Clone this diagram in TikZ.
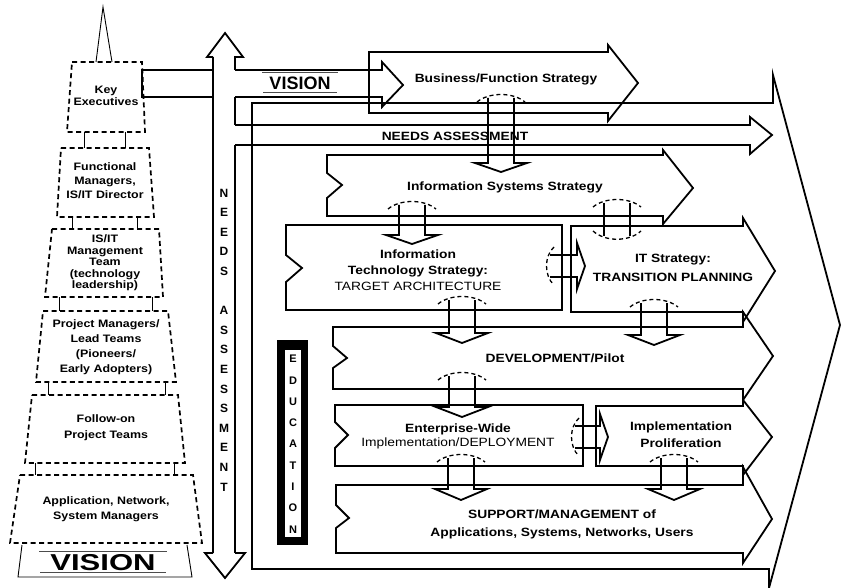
\documentclass[tikz,border=0pt]{standalone}
\usepackage{fontspec}
\setmainfont{Liberation Sans}
\newfontfamily\widesans[FakeStretch=1.15]{Liberation Sans}
\newfontfamily\widersans[FakeStretch=1.35]{Liberation Sans}
\usetikzlibrary{calc}
\newcommand{\hollowdown}[4]{% x, cap y, base y, tip y
  \draw[capline] ({#1-24},{#2+7}) .. controls ({#1-12},{#2-3}) and ({#1+12},{#2-3}) .. ({#1+24},{#2+7});
  \draw[rowline] ({#1-13},{#2+3}) -- ({#1-13},#3) -- ({#1-26},#3) -- (#1,#4) -- ({#1+26},#3) -- ({#1+13},#3) -- ({#1+13},{#2+3});}
\newcommand{\hollowright}[4]{% y, cap x, base x, tip x
  \draw[capline] ({#2+7},{#1-19}) .. controls ({#2-3},{#1-10}) and ({#2-3},{#1+10}) .. ({#2+7},{#1+19});
  \draw[rowline] ({#2+3},{#1-11}) -- (#3,{#1-11}) -- (#3,{#1-23}) -- (#4,#1) -- (#3,{#1+23}) -- (#3,{#1+11}) -- ({#2+3},{#1+11});}

\begin{document}
\begin{tikzpicture}[x=1pt, y=-1pt,
  rowline/.style={line width=1.8pt},
  pyrline/.style={line width=1.7pt, dash pattern=on 5pt off 3.5pt},
  capline/.style={line width=1.3pt, dash pattern=on 4pt off 3pt},
  thinline/.style={line width=0.9pt},
  pyr/.style={align=center, inner sep=0pt, font=\widesans\bfseries\fontsize{10.8}{#1}\selectfont},
  pyr/.default=13,
  lbl/.style={align=center, inner sep=0pt, font=\widesans\bfseries\fontsize{12}{#1}\selectfont},
  lbl/.default=15,
  vlet/.style={inner sep=0pt, font=\bfseries\fontsize{12}{12}\selectfont},
  tag/.style={draw=black!70, double, double distance=0.8pt, line width=0.4pt, inner sep=0pt}]
  \useasboundingbox (0,0) rectangle (841,588);

  % pyramid of people
  \draw[thinline] (96,62) -- (103,7) -- (112,62);
  \draw[pyrline] (72,62) -- (142,62) -- (145,132) -- (67,132) -- cycle;
  \draw[pyrline] (61,148) -- (149,148) -- (154,217) -- (57,217) -- cycle;
  \draw[pyrline] (52,229) -- (159,229) -- (163,297) -- (45,297) -- cycle;
  \draw[pyrline] (43,311) -- (168,311) -- (176,382) -- (36,382) -- cycle;
  \draw[pyrline] (32,395) -- (178,395) -- (185,463) -- (25,463) -- cycle;
  \draw[pyrline] (20,475) -- (193,475) -- (202,543) -- (10,543) -- cycle;
  \draw[thinline] (84,132) -- (84,148) (125,132) -- (125,148);
  \draw[thinline] (72,217) -- (72,229) (137,217) -- (137,229);
  \draw[thinline] (59,297) -- (59,311) (152,297) -- (152,311);
  \draw[thinline] (48,382) -- (48,395) (165,382) -- (165,395);
  \draw[thinline] (35,463) -- (35,475) (174,463) -- (174,475);
  \draw[thinline] (22,545) -- (18,577) -- (192,577) -- (187,545);
  \node[pyr=12] (keyexec) at (106,96) {Key\\Executives};
  \node[pyr=14] (funcmgr) at (105,181) {Functional\\Managers,\\IS/IT Director};
  \node[pyr=11.5] (itmgmt) at (105,263) {IS/IT\\Management\\Team\\(technology\\leadership)};
  \node[pyr=15] (projmgr) at (106,347) {Project Managers/\\Lead Teams\\(Pioneers/\\Early Adopters)};
  \node[pyr=16] (followon) at (106,428) {Follow-on\\Project Teams};
  \node[pyr=15] (appmgr) at (106,509) {Application, Network,\\System Managers};
  \node[tag, minimum width=127pt, minimum height=21pt, font=\widersans\bfseries\fontsize{23}{23}\selectfont] (visionbase) at (103,562.5) {VISION};

  % needs assessment, both ways
  \draw[rowline] (213,57) -- (213,553);
  \draw[rowline] (213,57) -- (207,57) -- (225,33) -- (243,57) -- (235,57) -- (235,70);
  \draw[rowline] (235,97) -- (235,125) (235,145) -- (235,553);
  \draw[rowline] (213,553) -- (205,553) -- (225,578) -- (245,553) -- (235,553);
  \foreach \ch [count=\i from 0] in {N,E,E,D,S,{},A,S,S,E,S,S,M,E,N,T}
    \node[vlet] (needs\i) at (224,{193+19.6*\i}) {\ch};

  % vision arrow
  \draw[rowline] (213,70) -- (142,70) -- (142,97) -- (213,97);
  \draw[rowline] (235,70) -- (382,70) -- (382,62) -- (403,85) -- (382,107) -- (382,97) -- (235,97);
  \node[tag, minimum width=75pt, minimum height=20pt, font=\bfseries\fontsize{18}{18}\selectfont] (visiontop) at (300,83) {VISION};

  % big arrow and needs row
  \draw[rowline] (252,103) -- (773,103) -- (773,75) -- (840,325) -- (769,588) -- (769,569) -- (252,569) -- cycle;
  \draw[rowline] (235,125) -- (750,125) -- (750,117) -- (772,135) -- (750,154) -- (750,145) -- (235,145);
  \node[lbl] (needsrow) at (455,136) {NEEDS ASSESSMENT};

  % strategy rows
  \draw[rowline] (369,52) -- (608,52) -- (608,45) -- (638,83) -- (608,121) -- (608,113) -- (369,113) -- cycle;
  \node[lbl] (bizstrat) at (506,79) {Business/Function Strategy};
  \draw[rowline] (327,155) -- (663,155) -- (663,150) -- (693,188) -- (663,224) -- (663,216) -- (327,216)
    -- (327,198) -- (342,185) -- (327,173) -- cycle;
  \node[lbl] (isstrat) at (505,187) {Information Systems Strategy};
  \draw[rowline] (286,225) -- (562,225) -- (562,310) -- (286,310) -- (286,282) -- (302,268) -- (286,255) -- cycle;
  \node[lbl=16] (target) at (418,270) {Information\\Technology Strategy:\\{\mdseries TARGET ARCHITECTURE}};
  \draw[rowline] (571,226) -- (743,226) -- (743,218) -- (775,271) -- (743,322) -- (743,312) -- (571,312) -- cycle;
  \node[lbl=19] (transition) at (673,267.5) {IT Strategy:\\TRANSITION PLANNING};
  \draw[rowline] (333,327) -- (743,327) -- (743,312) -- (773,356) -- (743,400) -- (743,389) -- (333,389)
    -- (333,368) -- (347,358) -- (333,346) -- cycle;
  \node[lbl] (pilot) at (555,358) {DEVELOPMENT/Pilot};
  \draw[rowline] (335,405) -- (583,405) -- (583,466) -- (335,466) -- (335,448) -- (348,435) -- (335,422) -- cycle;
  \node[lbl=14] (deploy) at (458,436) {Enterprise-Wide\\{\mdseries Implementation/DEPLOYMENT}};
  \draw[rowline] (596,406) -- (743,406) -- (743,400) -- (772,437) -- (743,475) -- (743,466) -- (596,466) -- cycle;
  \node[lbl=17] (prolif) at (681,434.5) {Implementation\\Proliferation};
  \draw[rowline] (336,485) -- (743,485) -- (743,467) -- (772,519) -- (743,563) -- (743,553) -- (336,553)
    -- (336,528) -- (349,518) -- (336,505) -- cycle;
  \node[lbl=18] (support) at (562,524) {SUPPORT/MANAGEMENT of\\Applications, Systems, Networks, Users};

  % education bar
  \fill (277,340) rectangle (308,545);
  \fill[white] (285,350) rectangle (301,537);
  \foreach \ch [count=\i from 0] in {E,D,U,C,A,T,I,O,N}
    \node[vlet, font=\bfseries\fontsize{11}{11}\selectfont] (educ\i) at (293,{359+21.3*\i}) {\ch};

  % hollow arrows between rows
  \hollowdown{501}{95}{163}{172}
  \hollowdown{412}{202}{235}{244}
  \hollowdown{462}{297}{333}{343}
  \hollowdown{654}{300}{335}{345}
  \hollowdown{462}{373}{407}{417}
  \hollowdown{461}{455}{489}{500}
  \hollowdown{674}{455}{489}{500}
  \draw[capline] (593,207) .. controls (605,197) and (629,197) .. (641,207);
  \draw[rowline] (604,203) -- (604,236) (630,203) -- (630,236);
  \draw[capline] (593,231) .. controls (605,242) and (629,242) .. (641,231);
  \hollowright{266}{547}{577}{585}
  \hollowright{437}{572}{600}{608}
\end{tikzpicture}
\end{document}
